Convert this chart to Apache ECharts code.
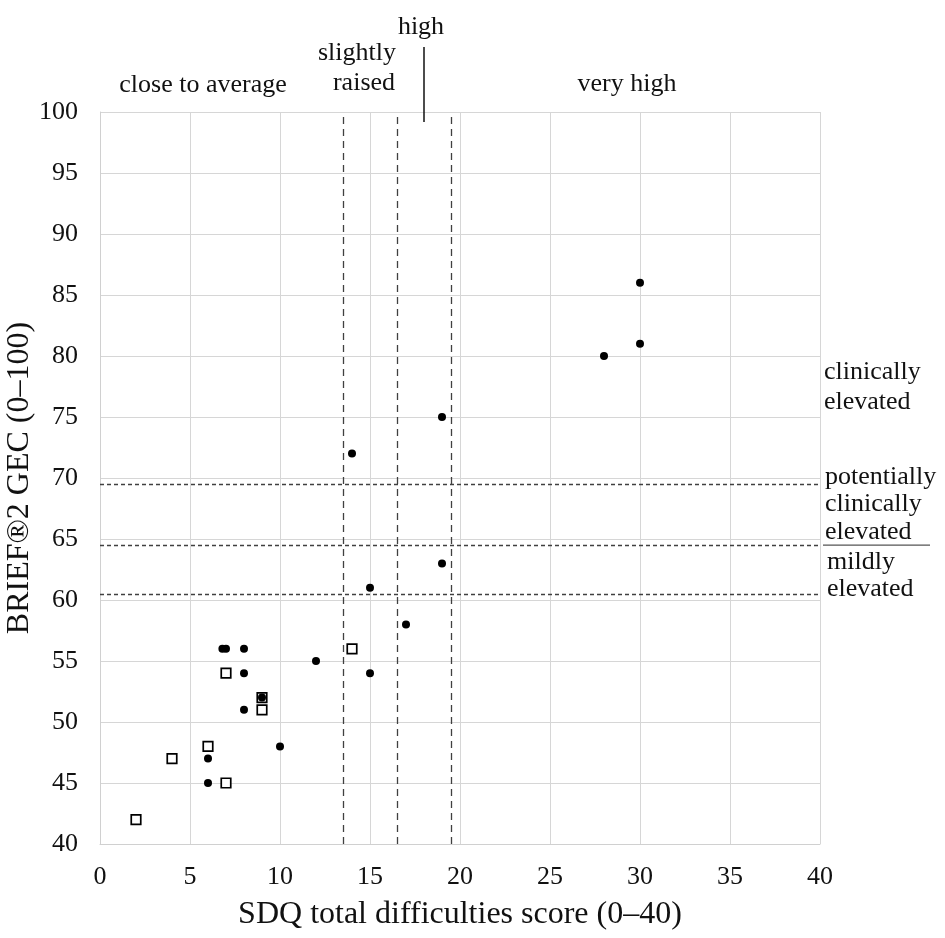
<!DOCTYPE html>
<html>
<head>
<meta charset="utf-8">
<script src="https://cdn.jsdelivr.net/npm/echarts@6/dist/echarts.min.js"></script>
<style>
html, body { margin: 0; padding: 0; background: #fff; }
#chart { width: 945px; height: 938px; }
</style>
</head>
<body>
<div id="chart"></div>
<script>
// open squares
var sdqSquares = [2, 4, 6, 7, 7, 9, 9, 14];
var gecSquares = [42, 47, 48, 45, 54, 51, 52, 56];
// filled dots
var sdqDots = [6, 6, 10, 8, 9, 8, 15, 12, 6.8, 7, 8, 17, 15, 19, 14, 19, 28, 30, 30];
var gecDots = [45, 47, 48, 51, 52, 54, 54, 55, 56, 56, 56, 58, 61, 63, 72, 75, 80, 81, 86];

// band cut-offs
var sdqCutoffs = [13.5, 16.5, 19.5];
var gecCutoffs = [60.5, 64.5, 69.5];
var highMarkerX = 18;

var FONT = '"Liberation Serif", "Times New Roman", serif';

function pairs(xs, ys) {
    var out = [];
    for (var i = 0; i < xs.length; i++) out.push([xs[i], ys[i]]);
    return out;
}

function txt(text, x, y, align) {
    return {
        type: 'text',
        silent: true,
        style: {
            text: text,
            x: x,
            y: y,
            fill: '#111',
            font: '26px ' + FONT,
            textAlign: align || 'center',
            textVerticalAlign: 'middle'
        }
    };
}

var chart = echarts.init(document.getElementById('chart'));

var option = {
    animation: false,
    backgroundColor: '#fff',
    grid: { left: 100, right: 125, top: 112, bottom: 94, outerBoundsMode: 'none', containLabel: false },
    xAxis: {
        type: 'value',
        min: 0, max: 40, interval: 5,
        name: 'SDQ total difficulties score (0\u201340)',
        nameLocation: 'middle',
        nameGap: 55,
        nameMoveOverlap: false,
        nameTextStyle: { fontFamily: FONT, fontSize: 32, color: '#111' },
        axisLine: { show: true, lineStyle: { color: '#d0d0d0', width: 1 } },
        axisTick: { show: false },
        axisLabel: { fontFamily: FONT, fontSize: 26, color: '#111', margin: 20 },
        splitLine: { show: true, lineStyle: { color: '#d6d6d6', width: 1 } }
    },
    yAxis: {
        type: 'value',
        min: 40, max: 100, interval: 5,
        name: 'BRIEF\u00ae2 GEC (0\u2013100)',
        nameLocation: 'middle',
        nameGap: 64,
        nameMoveOverlap: false,
        nameTextStyle: { fontFamily: FONT, fontSize: 32, color: '#111' },
        axisLine: { show: true, lineStyle: { color: '#d0d0d0', width: 1 } },
        axisTick: { show: false },
        axisLabel: { fontFamily: FONT, fontSize: 26, color: '#111', margin: 22 },
        splitLine: { show: true, lineStyle: { color: '#d6d6d6', width: 1 } }
    },
    series: [
        {
            name: 'squares',
            type: 'scatter',
            symbol: 'rect',
            symbolSize: 9.5,
            itemStyle: { color: '#fff', borderColor: '#000', borderWidth: 1.7, opacity: 1 },
            data: pairs(sdqSquares, gecSquares),
            z: 3,
            markLine: {
                silent: true,
                symbol: 'none',
                label: { show: false },
                lineStyle: { color: '#404040', width: 1.3, type: [7, 5] },
                data: sdqCutoffs.map(function (v) { return { xAxis: v }; })
            }
        },
        {
            name: 'dots',
            type: 'scatter',
            symbol: 'circle',
            symbolSize: 8,
            itemStyle: { color: '#000', opacity: 1 },
            data: pairs(sdqDots, gecDots),
            z: 4,
            markLine: {
                silent: true,
                symbol: 'none',
                label: { show: false },
                lineStyle: { color: '#404040', width: 1.3, type: [4, 3] },
                data: gecCutoffs.map(function (v) { return { yAxis: v }; })
            }
        }
    ]
};
chart.setOption(option);

// annotation lines placed from the axis scales
var highTop = chart.convertToPixel({ gridIndex: 0 }, [highMarkerX, 100]);
var sepPt = chart.convertToPixel({ gridIndex: 0 }, [40, gecCutoffs[1]]);

chart.setOption({
    graphic: [
        txt('close to average', 203, 85),
        txt('slightly', 357, 53),
        txt('raised', 364, 83),
        txt('high', 421, 27),
        txt('very high', 627, 84),
        txt('clinically', 824, 372, 'left'),
        txt('elevated', 824, 402, 'left'),
        txt('potentially', 825, 477, 'left'),
        txt('clinically', 825, 504, 'left'),
        txt('elevated', 825, 532, 'left'),
        txt('mildly', 827, 562, 'left'),
        txt('elevated', 827, 589, 'left'),
        {
            type: 'line',
            silent: true,
            shape: { x1: highTop[0], y1: 47, x2: highTop[0], y2: highTop[1] + 10 },
            style: { stroke: '#111', lineWidth: 1.5 }
        },
        {
            type: 'line',
            silent: true,
            shape: { x1: sepPt[0] + 3, y1: sepPt[1], x2: sepPt[0] + 110, y2: sepPt[1] },
            style: { stroke: '#555', lineWidth: 1.2 }
        }
    ]
});
</script>
</body>
</html>
